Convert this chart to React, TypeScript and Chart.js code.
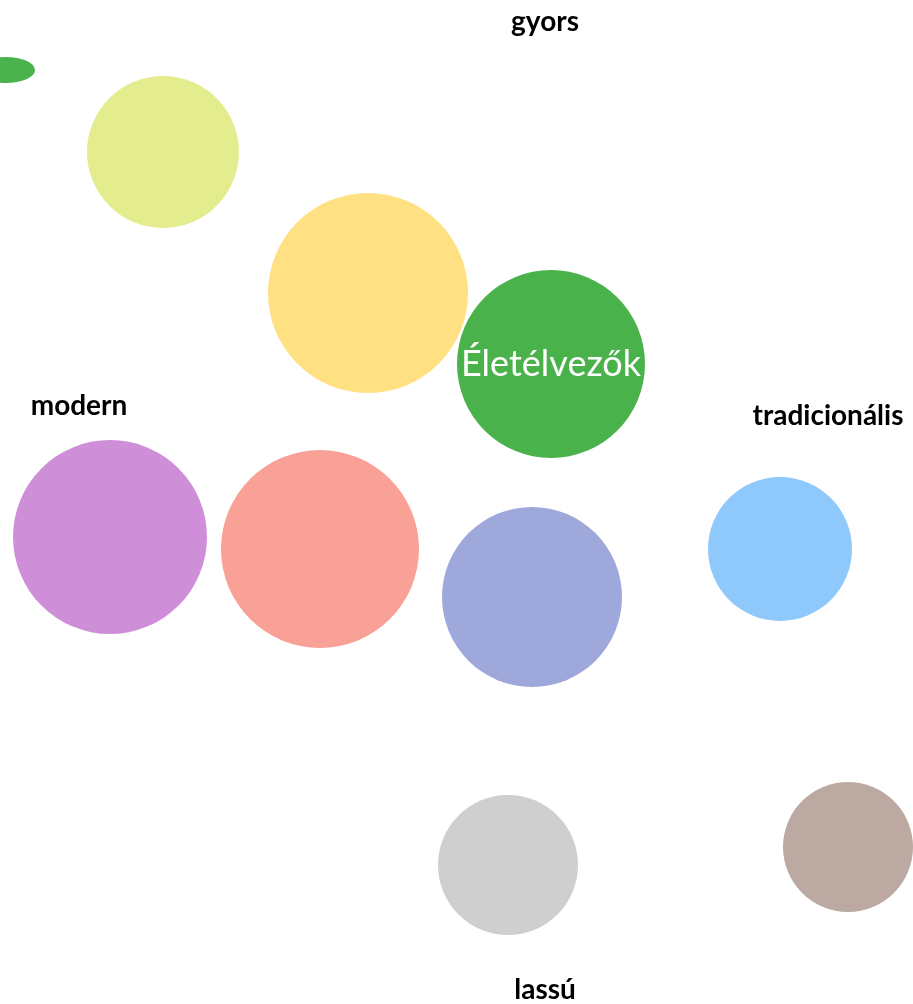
import React, { useEffect, useRef } from "react";
import { Chart, registerables } from "chart.js";

Chart.register(...registerables);

// Segment map: x = modern (left) → tradicionális (right), y = lassú (bottom) → gyors (top)
const segmentNames = ["", "", "Életélvezők", "", "", "", "", "", ""];
const segmentX = [163, 368, 551, 110, 320, 532, 780, 508, 848];
const segmentY = [852, 711, 640, 467, 455, 407, 455, 139, 157];
const segmentR = [76, 100, 94, 97, 99, 90, 72, 70, 65];
const segmentColors = [
  "#E4ED8E",
  "#FFE083",
  "#4AB24B",
  "#CE8FD8",
  "#F9A196",
  "#9FA8DB",
  "#8FC8FA",
  "#CFCFCF",
  "#BBA9A2",
];

const axisLabels = ["gyors", "modern", "tradicionális", "lassú"];
const axisLabelX = [545, 79, 828, 545];
const axisLabelY = [982, 598, 588, 14];

const blobX = [6];
const blobY = [934];

export default function App() {
  const ref = useRef<HTMLCanvasElement | null>(null);

  useEffect(() => {
    document.body.style.margin = "0";
    const canvas = ref.current;
    if (!canvas) return;

    const overlay = {
      id: "overlay",
      beforeDatasetsDraw(chart: any) {
        const { ctx, scales } = chart;
        ctx.save();
        ctx.fillStyle = "#4AB24B";
        for (let i = 0; i < blobX.length; i++) {
          const px = scales.x.getPixelForValue(blobX[i]);
          const py = scales.y.getPixelForValue(blobY[i]);
          ctx.beginPath();
          ctx.ellipse(px, py, 29, 13, 0, 0, Math.PI * 2);
          ctx.fill();
        }
        ctx.restore();
      },
      afterDatasetsDraw(chart: any) {
        const { ctx, scales } = chart;
        ctx.save();
        ctx.textAlign = "center";
        ctx.textBaseline = "middle";
        ctx.fillStyle = "#000000";
        ctx.font = "bold 28px Lato, 'Open Sans', sans-serif";
        for (let i = 0; i < axisLabels.length; i++) {
          ctx.fillText(
            axisLabels[i],
            scales.x.getPixelForValue(axisLabelX[i]),
            scales.y.getPixelForValue(axisLabelY[i])
          );
        }
        ctx.fillStyle = "#FFFFFF";
        ctx.font = "36px Lato, 'Open Sans', sans-serif";
        for (let i = 0; i < segmentNames.length; i++) {
          if (!segmentNames[i]) continue;
          ctx.fillText(
            segmentNames[i],
            scales.x.getPixelForValue(segmentX[i]),
            scales.y.getPixelForValue(segmentY[i])
          );
        }
        ctx.restore();
      },
    };

    const chart = new Chart(canvas, {
      type: "bubble",
      data: {
        datasets: [
          {
            data: segmentX.map((x, i) => ({ x, y: segmentY[i], r: segmentR[i] })),
            backgroundColor: segmentColors,
            borderWidth: 0,
            hoverBorderWidth: 0,
            clip: false,
          } as any,
        ],
      },
      options: {
        animation: false,
        responsive: false,
        maintainAspectRatio: false,
        layout: { padding: 0, autoPadding: false },
        plugins: { legend: { display: false }, tooltip: { enabled: false } },
        scales: {
          x: { type: "linear", min: 0, max: 913, display: false },
          y: { type: "linear", min: 0, max: 1004, display: false },
        },
      },
      plugins: [overlay],
    });

    return () => chart.destroy();
  }, []);

  return (
    <div style={{ width: 913, height: 1004 }}>
      <canvas ref={ref} width={913} height={1004} style={{ display: "block" }} />
    </div>
  );
}
